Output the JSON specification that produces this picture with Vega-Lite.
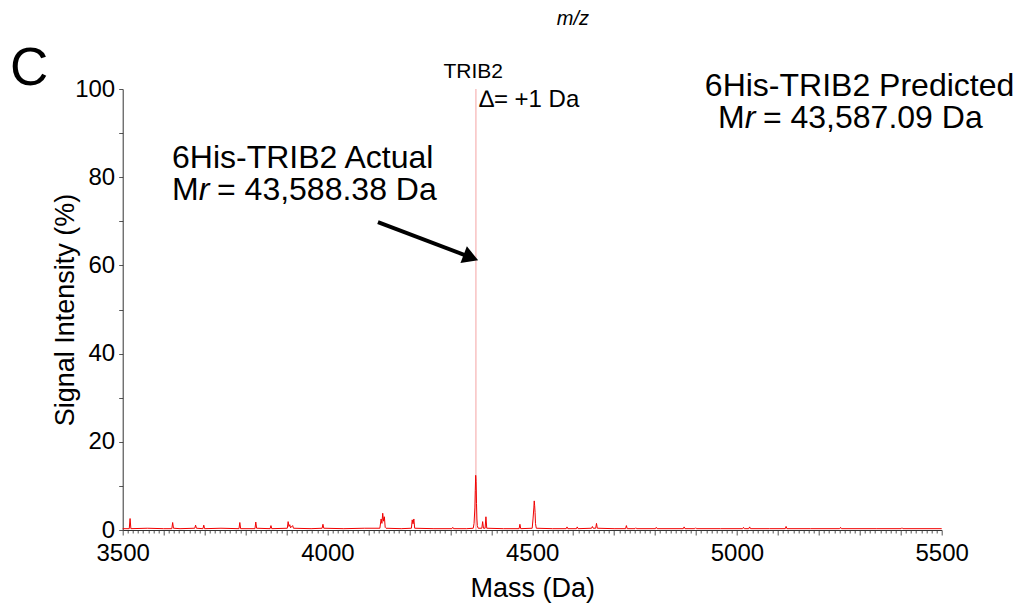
{
  "$schema": "https://vega.github.io/schema/vega-lite/v6.json",
  "width": 819,
  "height": 441,
  "autosize": {"type": "none"},
  "padding": {"left": 122.7, "top": 89, "right": 80.3, "bottom": 83},
  "background": "white",
  "config": {
    "view": {"stroke": null},
    "font": "Liberation Sans",
    "axis": {"grid": false, "labelFont": "Liberation Sans", "titleFont": "Liberation Sans", "labelColor": "black", "titleColor": "black", "titleFontWeight": "normal", "domainColor": "#333333", "tickColor": "#555555"},
    "text": {"font": "Liberation Sans", "color": "black"}
  },
  "datasets": {
    "spectrum": [
      {"mass": 3500, "intensity": 0.3}, {"mass": 3516, "intensity": 0.3}, {"mass": 3518, "intensity": 2.6}, {"mass": 3520, "intensity": 0.3},
      {"mass": 3560, "intensity": 0.4}, {"mass": 3600, "intensity": 0.3}, {"mass": 3620, "intensity": 0.3}, {"mass": 3622, "intensity": 1.7}, {"mass": 3624, "intensity": 0.4},
      {"mass": 3640, "intensity": 0.3}, {"mass": 3676, "intensity": 0.4}, {"mass": 3678, "intensity": 1.1}, {"mass": 3680, "intensity": 0.4},
      {"mass": 3696, "intensity": 0.3}, {"mass": 3698, "intensity": 1.1}, {"mass": 3700, "intensity": 0.3}, {"mass": 3740, "intensity": 0.4},
      {"mass": 3784, "intensity": 0.3}, {"mass": 3786, "intensity": 1.7}, {"mass": 3788, "intensity": 0.3},
      {"mass": 3823, "intensity": 0.3}, {"mass": 3825, "intensity": 1.8}, {"mass": 3827, "intensity": 0.4},
      {"mass": 3860, "intensity": 0.3}, {"mass": 3862, "intensity": 1.0}, {"mass": 3864, "intensity": 0.3},
      {"mass": 3902, "intensity": 0.4}, {"mass": 3904, "intensity": 1.9}, {"mass": 3906, "intensity": 0.8}, {"mass": 3908, "intensity": 1.2}, {"mass": 3910, "intensity": 0.5},
      {"mass": 3915, "intensity": 1.0}, {"mass": 3917, "intensity": 0.4}, {"mass": 3960, "intensity": 0.3},
      {"mass": 3987, "intensity": 0.4}, {"mass": 3989, "intensity": 1.3}, {"mass": 3991, "intensity": 0.4},
      {"mass": 4040, "intensity": 0.3}, {"mass": 4090, "intensity": 0.4},
      {"mass": 4128, "intensity": 0.4}, {"mass": 4131, "intensity": 2.5}, {"mass": 4133, "intensity": 1.5}, {"mass": 4135, "intensity": 3.8}, {"mass": 4137, "intensity": 2.0}, {"mass": 4139, "intensity": 3.0}, {"mass": 4141, "intensity": 0.6}, {"mass": 4143, "intensity": 0.4},
      {"mass": 4180, "intensity": 0.3}, {"mass": 4205, "intensity": 0.4}, {"mass": 4207, "intensity": 2.3}, {"mass": 4209, "intensity": 1.4}, {"mass": 4211, "intensity": 2.5}, {"mass": 4213, "intensity": 0.4},
      {"mass": 4260, "intensity": 0.3}, {"mass": 4304, "intensity": 0.3}, {"mass": 4306, "intensity": 0.6}, {"mass": 4308, "intensity": 0.3},
      {"mass": 4340, "intensity": 0.3}, {"mass": 4356, "intensity": 0.4}, {"mass": 4358, "intensity": 1.5}, {"mass": 4360, "intensity": 5.0}, {"mass": 4361, "intensity": 9.0}, {"mass": 4362, "intensity": 12.4}, {"mass": 4363, "intensity": 11.0}, {"mass": 4364, "intensity": 6.0}, {"mass": 4365, "intensity": 2.5}, {"mass": 4366, "intensity": 1.0}, {"mass": 4368, "intensity": 0.4},
      {"mass": 4377, "intensity": 0.4}, {"mass": 4379, "intensity": 1.9}, {"mass": 4381, "intensity": 0.4},
      {"mass": 4385, "intensity": 0.4}, {"mass": 4387, "intensity": 3.0}, {"mass": 4389, "intensity": 0.4},
      {"mass": 4430, "intensity": 0.3}, {"mass": 4468, "intensity": 0.3}, {"mass": 4470, "intensity": 1.3}, {"mass": 4472, "intensity": 0.3},
      {"mass": 4500, "intensity": 0.4}, {"mass": 4502, "intensity": 2.5}, {"mass": 4504, "intensity": 5.0}, {"mass": 4505, "intensity": 6.6}, {"mass": 4506, "intensity": 5.5}, {"mass": 4507, "intensity": 4.0}, {"mass": 4508, "intensity": 1.5}, {"mass": 4510, "intensity": 0.4},
      {"mass": 4550, "intensity": 0.3}, {"mass": 4583, "intensity": 0.3}, {"mass": 4585, "intensity": 0.7}, {"mass": 4587, "intensity": 0.3},
      {"mass": 4608, "intensity": 0.3}, {"mass": 4610, "intensity": 0.7}, {"mass": 4612, "intensity": 0.3},
      {"mass": 4645, "intensity": 0.4}, {"mass": 4647, "intensity": 0.8}, {"mass": 4649, "intensity": 0.4},
      {"mass": 4655, "intensity": 0.4}, {"mass": 4657, "intensity": 1.5}, {"mass": 4659, "intensity": 0.4},
      {"mass": 4700, "intensity": 0.3}, {"mass": 4728, "intensity": 0.3}, {"mass": 4730, "intensity": 1.0}, {"mass": 4732, "intensity": 0.3},
      {"mass": 4751, "intensity": 0.3}, {"mass": 4753, "intensity": 0.5}, {"mass": 4755, "intensity": 0.3},
      {"mass": 4801, "intensity": 0.3}, {"mass": 4803, "intensity": 0.6}, {"mass": 4805, "intensity": 0.3},
      {"mass": 4869, "intensity": 0.3}, {"mass": 4871, "intensity": 0.7}, {"mass": 4873, "intensity": 0.3},
      {"mass": 4897, "intensity": 0.3}, {"mass": 4899, "intensity": 0.5}, {"mass": 4901, "intensity": 0.3},
      {"mass": 4960, "intensity": 0.3}, {"mass": 5014, "intensity": 0.3}, {"mass": 5016, "intensity": 0.6}, {"mass": 5018, "intensity": 0.3},
      {"mass": 5029, "intensity": 0.3}, {"mass": 5031, "intensity": 0.7}, {"mass": 5033, "intensity": 0.3},
      {"mass": 5080, "intensity": 0.3}, {"mass": 5118, "intensity": 0.3}, {"mass": 5120, "intensity": 0.8}, {"mass": 5122, "intensity": 0.3},
      {"mass": 5180, "intensity": 0.3}, {"mass": 5251, "intensity": 0.3}, {"mass": 5253, "intensity": 0.6}, {"mass": 5255, "intensity": 0.3},
      {"mass": 5340, "intensity": 0.3}, {"mass": 5401, "intensity": 0.3}, {"mass": 5403, "intensity": 0.5}, {"mass": 5405, "intensity": 0.3},
      {"mass": 5500, "intensity": 0.3}
    ]
  },
  "encoding": {
    "x": {
      "field": "mass", "type": "quantitative", "title": "Mass (Da)",
      "scale": {"domain": [3500, 5500], "nice": false, "zero": false},
      "axis": {
        "values": [3500,3512.5,3525,3537.5,3550,3562.5,3575,3587.5,3600,3612.5,3625,3637.5,3650,3662.5,3675,3687.5,3700,3712.5,3725,3737.5,3750,3762.5,3775,3787.5,3800,3812.5,3825,3837.5,3850,3862.5,3875,3887.5,3900,3912.5,3925,3937.5,3950,3962.5,3975,3987.5,4000,4012.5,4025,4037.5,4050,4062.5,4075,4087.5,4100,4112.5,4125,4137.5,4150,4162.5,4175,4187.5,4200,4212.5,4225,4237.5,4250,4262.5,4275,4287.5,4300,4312.5,4325,4337.5,4350,4362.5,4375,4387.5,4400,4412.5,4425,4437.5,4450,4462.5,4475,4487.5,4500,4512.5,4525,4537.5,4550,4562.5,4575,4587.5,4600,4612.5,4625,4637.5,4650,4662.5,4675,4687.5,4700,4712.5,4725,4737.5,4750,4762.5,4775,4787.5,4800,4812.5,4825,4837.5,4850,4862.5,4875,4887.5,4900,4912.5,4925,4937.5,4950,4962.5,4975,4987.5,5000,5012.5,5025,5037.5,5050,5062.5,5075,5087.5,5100,5112.5,5125,5137.5,5150,5162.5,5175,5187.5,5200,5212.5,5225,5237.5,5250,5262.5,5275,5287.5,5300,5312.5,5325,5337.5,5350,5362.5,5375,5387.5,5400,5412.5,5425,5437.5,5450,5462.5,5475,5487.5,5500],
        "format": "d",
        "labelExpr": "datum.value % 500 === 0 ? datum.label : ''",
        "labelOverlap": false,
        "labelFlush": false,
        "labelFontSize": 24,
        "titleFontSize": 27,
        "tickSize": {"condition": {"test": "datum.value % 100 === 0", "value": 5}, "value": 3},
        "labelPadding": 6,
        "titlePadding": 10
      }
    },
    "y": {
      "field": "intensity", "type": "quantitative", "title": "Signal Intensity (%)",
      "scale": {"domain": [0, 100], "nice": false},
      "axis": {
        "values": [0, 10, 20, 30, 40, 50, 60, 70, 80, 90, 100],
        "labelExpr": "datum.value % 20 === 0 ? datum.label : ''",
        "labelOverlap": false,
        "labelFlush": false,
        "labelFontSize": 24,
        "titleFontSize": 27,
        "tickSize": 4,
        "labelPadding": 4,
        "titlePadding": -5
      }
    }
  },
  "layer": [
    {
      "data": {"values": [{"mass": 4362.6, "intensity": 0, "high": 100}]},
      "mark": {"type": "rule", "color": "#f4a3a3", "strokeWidth": 1},
      "encoding": {"y2": {"field": "high"}}
    },
    {
      "data": {"name": "spectrum"},
      "mark": {"type": "line", "color": "#f00000", "strokeWidth": 1},
      "encoding": {}
    },
    {
      "data": {"values": [{"mass": 4123.3, "intensity": 69.8, "mass2": 4337, "intensity2": 62.3}]},
      "mark": {"type": "rule", "color": "black", "strokeWidth": 4},
      "encoding": {"x2": {"field": "mass2"}, "y2": {"field": "intensity2"}}
    },
    {
      "data": {"values": [{"mass": 4350.3, "intensity": 61.8}]},
      "mark": {"type": "point", "shape": "triangle-right", "filled": true, "color": "black", "opacity": 1, "size": 320, "angle": 21},
      "encoding": {}
    },
    {
      "data": {"values": [{"mass": 3620.4, "intensity": 82.1, "label": "6His-TRIB2 Actual"}, {"mass": 4921.6, "intensity": 98.4, "label": "6His-TRIB2 Predicted"}]},
      "mark": {"type": "text", "fontSize": 32, "align": "left", "baseline": "alphabetic"},
      "encoding": {"text": {"field": "label"}}
    },
    {
      "data": {"values": [{"mass": 3620.4, "intensity": 74.8, "label": "M"}, {"mass": 4953.6, "intensity": 91.2, "label": "M"}]},
      "mark": {"type": "text", "fontSize": 32, "align": "left", "baseline": "alphabetic"},
      "encoding": {"text": {"field": "label"}}
    },
    {
      "data": {"values": [{"mass": 3620.4, "intensity": 74.8, "label": "r"}, {"mass": 4953.6, "intensity": 91.2, "label": "r"}]},
      "mark": {"type": "text", "fontSize": 32, "fontStyle": "italic", "align": "left", "baseline": "alphabetic", "dx": 26.7},
      "encoding": {"text": {"field": "label"}}
    },
    {
      "data": {"values": [{"mass": 3620.4, "intensity": 74.8, "label": "= 43,588.38 Da"}, {"mass": 4953.6, "intensity": 91.2, "label": "= 43,587.09 Da"}]},
      "mark": {"type": "text", "fontSize": 32, "align": "left", "baseline": "alphabetic", "dx": 45},
      "encoding": {"text": {"field": "label"}}
    },
    {
      "data": {"values": [{"mass": 4356, "intensity": 102.5, "label": "TRIB2"}]},
      "mark": {"type": "text", "fontSize": 21, "align": "center", "baseline": "alphabetic"},
      "encoding": {"text": {"field": "label"}}
    },
    {
      "data": {"values": [{"mass": 4370.6, "intensity": 95.9, "label": "∆= +1 Da"}]},
      "mark": {"type": "text", "fontSize": 24, "align": "left", "baseline": "alphabetic"},
      "encoding": {"text": {"field": "label"}}
    },
    {
      "data": {"values": [{"mass": 4599.4, "intensity": 114.5, "label": "m/z"}]},
      "mark": {"type": "text", "fontSize": 20, "fontStyle": "italic", "align": "center", "baseline": "alphabetic"},
      "encoding": {"text": {"field": "label"}}
    },
    {
      "data": {"values": [{"mass": 3224.9, "intensity": 100.9, "label": "C"}]},
      "mark": {"type": "text", "fontSize": 53, "align": "left", "baseline": "alphabetic"},
      "encoding": {"text": {"field": "label"}}
    }
  ]
}
